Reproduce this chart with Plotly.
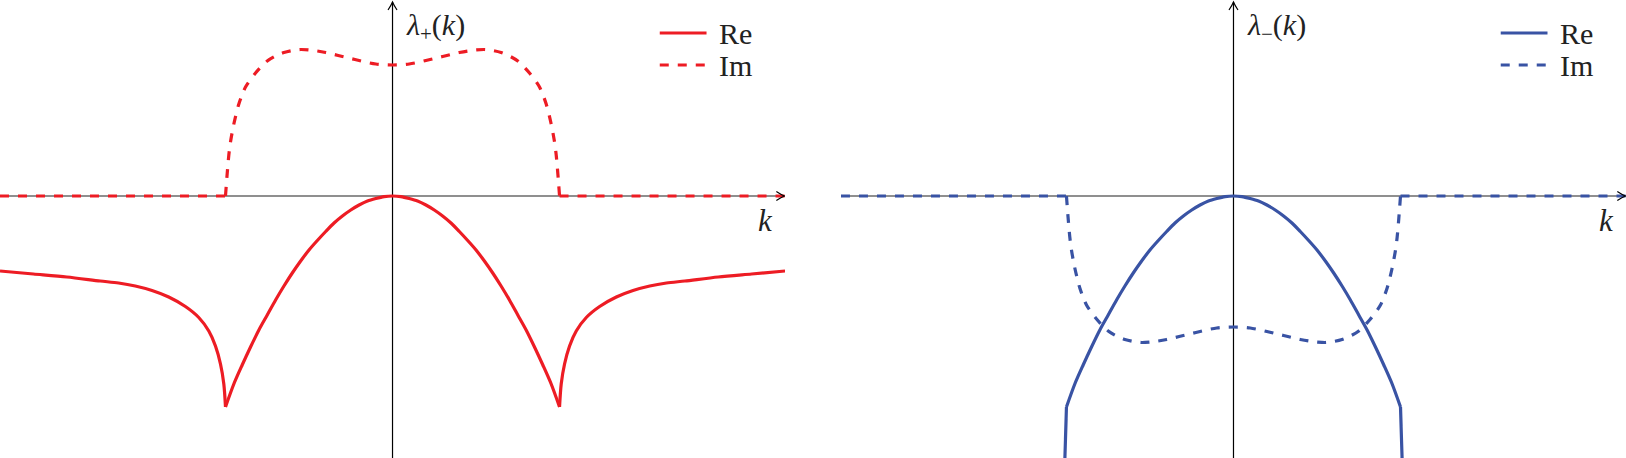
import plotly.graph_objects as go

# eigenvalue branches lambda_+(k), lambda_-(k)
# k in units of the branch point (|k| = 1), lambda in arbitrary units

# outer branches (|k| > 1) of Re lambda_+
k_out_left = [-2.35, -2.15, -1.95, -1.75, -1.64, -1.54, -1.44, -1.34, -1.24, -1.16, -1.10, -1.06, -1.03, -1.01, -1.0]
re_plus_out_left = [-0.75, -0.78, -0.81, -0.85, -0.87, -0.90, -0.945, -1.01, -1.105, -1.215, -1.35, -1.50, -1.68, -1.88, -2.11]
k_out_right = [1.0, 1.01, 1.03, 1.06, 1.10, 1.16, 1.24, 1.34, 1.44, 1.54, 1.64, 1.75, 1.95, 2.15, 2.35]
re_plus_out_right = [-2.11, -1.88, -1.68, -1.50, -1.35, -1.215, -1.105, -1.01, -0.945, -0.90, -0.87, -0.85, -0.81, -0.78, -0.75]

# inner part (|k| < 1): both branches share the real part
k_in = [-1.0, -0.95, -0.9, -0.85, -0.8, -0.75, -0.7, -0.65, -0.6, -0.55, -0.5, -0.45, -0.4, -0.35,
        -0.3, -0.25, -0.2, -0.15, -0.1, -0.05, 0.0, 0.05, 0.1, 0.15, 0.2, 0.25, 0.3, 0.35, 0.4,
        0.45, 0.5, 0.55, 0.6, 0.65, 0.7, 0.75, 0.8, 0.85, 0.9, 0.95, 1.0]
re_plus_in = [-2.11, -1.88, -1.69, -1.51, -1.34, -1.19, -1.04, -0.90, -0.77, -0.65, -0.54, -0.445, -0.355, -0.27,
              -0.20, -0.14, -0.09, -0.05, -0.025, -0.006, 0.0, -0.006, -0.025, -0.05, -0.09, -0.14, -0.20, -0.27, -0.355,
              -0.445, -0.54, -0.65, -0.77, -0.90, -1.04, -1.19, -1.34, -1.51, -1.69, -1.88, -2.11]
re_minus_in = [-2.11, -1.88, -1.69, -1.51, -1.34, -1.19, -1.04, -0.90, -0.77, -0.65, -0.54, -0.445, -0.355, -0.27,
               -0.20, -0.14, -0.09, -0.05, -0.025, -0.006, 0.0, -0.006, -0.025, -0.05, -0.09, -0.14, -0.20, -0.27, -0.355,
               -0.445, -0.54, -0.65, -0.77, -0.90, -1.04, -1.19, -1.34, -1.51, -1.69, -1.88, -2.11]

# Re lambda_- drops off the bottom just outside |k| = 1
k_drop_left = [-1.02, -1.0]
re_minus_drop_left = [-3.2, -2.11]
k_drop_right = [1.0, 1.02]
re_minus_drop_right = [-2.11, -3.2]

# Im: zero outside, bump inside
k_flat_left = [-2.35, -1.0]
k_flat_right = [1.0, 2.35]
im_flat = [0.0, 0.0]
k_im = [-1.0, -0.99, -0.98, -0.97, -0.95, -0.92, -0.88, -0.82, -0.75, -0.7, -0.65, -0.6,
        -0.55, -0.5, -0.45, -0.4, -0.35, -0.3, -0.25, -0.2, -0.15, -0.1, -0.05, 0.0, 0.05, 0.1, 0.15,
        0.2, 0.25, 0.3, 0.35, 0.4, 0.45, 0.5, 0.55, 0.6, 0.65, 0.7, 0.75, 0.82, 0.88, 0.92, 0.95,
        0.97, 0.98, 0.99, 1.0]
im_plus = [0.0, 0.22, 0.41, 0.54, 0.72, 0.92, 1.09, 1.23, 1.35, 1.40, 1.435, 1.455,
           1.465, 1.46, 1.45, 1.435, 1.415, 1.395, 1.375, 1.355, 1.335, 1.32, 1.312, 1.31, 1.312, 1.32, 1.335,
           1.355, 1.375, 1.395, 1.415, 1.435, 1.45, 1.46, 1.465, 1.455, 1.435, 1.40, 1.35, 1.23, 1.09, 0.92, 0.72,
           0.54, 0.41, 0.22, 0.0]
im_minus = [0.0, -0.22, -0.41, -0.54, -0.72, -0.92, -1.09, -1.23, -1.35, -1.40, -1.435, -1.455,
            -1.465, -1.46, -1.45, -1.435, -1.415, -1.395, -1.375, -1.355, -1.335, -1.32, -1.312, -1.31, -1.312, -1.32, -1.335,
            -1.355, -1.375, -1.395, -1.415, -1.435, -1.45, -1.46, -1.465, -1.455, -1.435, -1.40, -1.35, -1.23, -1.09, -0.92, -0.72,
            -0.54, -0.41, -0.22, 0.0]

RED = '#ED1C24'
BLUE = '#3953A4'
SERIF = 'Liberation Serif, DejaVu Serif, serif'
K_RANGE = [-2.35, 2.35]
Y_RANGE = [-2.62, 1.96]
Y_TOP = 1.94
LW = 3.2
DASH = '9px,9px'

fig = go.Figure()

def curve(x, y, col, xr, yr, dash='solid', shape='spline'):
    fig.add_trace(go.Scatter(x=x, y=y, mode='lines', xaxis=xr, yaxis=yr, hoverinfo='skip',
                             line=dict(color=col, width=LW, dash=dash, shape=shape, smoothing=0.8)))

# lambda_+
curve(k_out_left, re_plus_out_left, RED, 'x', 'y')
curve(k_in, re_plus_in, RED, 'x', 'y')
curve(k_out_right, re_plus_out_right, RED, 'x', 'y')
curve(k_flat_left, im_flat, RED, 'x', 'y', DASH, 'linear')
curve(k_im, im_plus, RED, 'x', 'y', DASH)
curve(k_flat_right, im_flat, RED, 'x', 'y', DASH, 'linear')

# lambda_-
curve(k_drop_left, re_minus_drop_left, BLUE, 'x2', 'y2', shape='linear')
curve(k_in, re_minus_in, BLUE, 'x2', 'y2')
curve(k_drop_right, re_minus_drop_right, BLUE, 'x2', 'y2', shape='linear')
curve(k_flat_left, im_flat, BLUE, 'x2', 'y2', DASH, 'linear')
curve(k_im, im_minus, BLUE, 'x2', 'y2', DASH)
curve(k_flat_right, im_flat, BLUE, 'x2', 'y2', DASH, 'linear')

ax = dict(visible=False, range=K_RANGE, fixedrange=True)
ay = dict(visible=False, range=Y_RANGE, fixedrange=True)

shapes = []
annotations = []
panels = [('x', 'y', RED, '<i>λ</i><sub>+</sub>(<i>k</i>)'),
          ('x2', 'y2', BLUE, '<i>λ</i><sub>−</sub>(<i>k</i>)')]
for xr, yr, col, lab in panels:
    # axes with tikz-like arrow tips
    shapes.append(dict(type='line', xref=xr, yref=yr, x0=K_RANGE[0], x1=K_RANGE[1], y0=0, y1=0,
                       line=dict(color='#6a6a6a', width=1.6), layer='below'))
    shapes.append(dict(type='line', xref=xr, yref=yr, x0=0, x1=0, y0=Y_RANGE[0], y1=Y_TOP,
                       line=dict(color='black', width=1.2), layer='below'))
    shapes.append(dict(type='path', xref=xr, yref=yr, xsizemode='pixel', ysizemode='pixel',
                       xanchor=K_RANGE[1] - 0.004, yanchor=0,
                       path='M -8 4.5 Q -3 1.2 0 0 Q -3 -1.2 -8 -4.5',
                       line=dict(color='black', width=1.2)))
    shapes.append(dict(type='path', xref=xr, yref=yr, xsizemode='pixel', ysizemode='pixel',
                       xanchor=0, yanchor=Y_TOP,
                       path='M -4.5 -8 Q -1.2 -3 0 0 Q 1.2 -3 4.5 -8',
                       line=dict(color='black', width=1.2)))
    # hand-made legend
    shapes.append(dict(type='line', xref=xr, yref=yr, x0=1.60, x1=1.88, y0=1.63, y1=1.63,
                       line=dict(color=col, width=LW)))
    shapes.append(dict(type='line', xref=xr, yref=yr, x0=1.60, x1=1.88, y0=1.31, y1=1.31,
                       line=dict(color=col, width=LW, dash=DASH)))
    annotations.append(dict(xref=xr, yref=yr, x=1.94, y=1.63, text='Re', showarrow=False,
                            xanchor='left', yanchor='middle', font=dict(family=SERIF, size=30, color='#222')))
    annotations.append(dict(xref=xr, yref=yr, x=1.94, y=1.31, text='Im', showarrow=False,
                            xanchor='left', yanchor='middle', font=dict(family=SERIF, size=30, color='#222')))
    annotations.append(dict(xref=xr, yref=yr, x=0.07, y=1.69, text=lab, showarrow=False,
                            xanchor='left', yanchor='middle', font=dict(family=SERIF, size=30, color='#222')))
    annotations.append(dict(xref=xr, yref=yr, x=2.235, y=-0.24, text='<i>k</i>', showarrow=False,
                            xanchor='center', yanchor='middle', font=dict(family=SERIF, size=31, color='#222')))

fig.update_layout(
    width=1626, height=458,
    margin=dict(l=0, r=0, t=0, b=0),
    template='none',
    paper_bgcolor='white', plot_bgcolor='white',
    showlegend=False,
    xaxis=dict(ax, domain=[0, 0.4828]),
    yaxis=dict(ay, domain=[0, 1]),
    xaxis2=dict(ax, domain=[0.5172, 1.0]),
    yaxis2=dict(ay, domain=[0, 1], anchor='x2'),
    shapes=shapes,
    annotations=annotations,
)
# page body has a default 8px margin; drop it so the figure fills the window
fig.write_html("out.html", config={'displayModeBar': False},
               post_script="document.body.style.margin='0px';")
